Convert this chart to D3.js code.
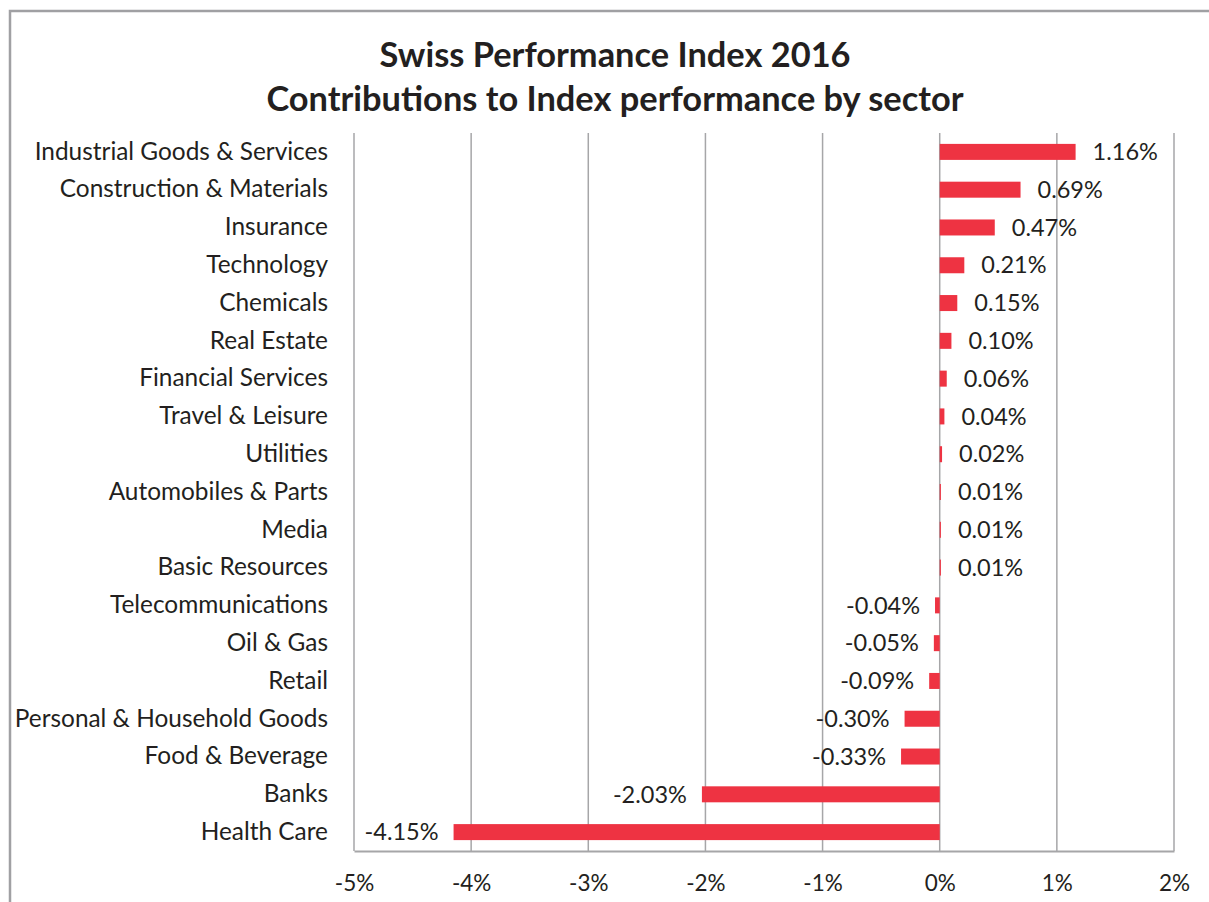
<!DOCTYPE html>
<html>
<head>
<meta charset="utf-8">
<script src="https://cdn.jsdelivr.net/npm/d3@7"></script>
<style>
  body { margin: 0; background: #fff; }
  text { font-family: Lato, "Open Sans", sans-serif; fill: #231f20; }
</style>
</head>
<body>
<svg></svg>
<script>
// sectors, top to bottom
var sectors = ["Industrial Goods & Services", "Construction & Materials", "Insurance", "Technology",
  "Chemicals", "Real Estate", "Financial Services", "Travel & Leisure", "Utilities",
  "Automobiles & Parts", "Media", "Basic Resources", "Telecommunications", "Oil & Gas",
  "Retail", "Personal & Household Goods", "Food & Beverage", "Banks", "Health Care"];

// contribution in percent
var values = [1.16, 0.69, 0.47, 0.21, 0.15, 0.10, 0.06, 0.04, 0.02, 0.01, 0.01, 0.01,
  -0.04, -0.05, -0.09, -0.30, -0.33, -2.03, -4.15];

// x axis ticks
var ticks = [-5, -4, -3, -2, -1, 0, 1, 2];

var titleLines = ["Swiss Performance Index 2016", "Contributions to Index performance by sector"];

var svgWidth = 1209, svgHeight = 902;
var plotLeft = 354, plotRight = 1174, plotTop = 133, plotBottom = 851;

var svg = d3.select("svg")
    .attr("width", svgWidth)
    .attr("height", svgHeight);

// outer frame (runs off the right and bottom edges)
svg.append("rect")
    .attr("x", 10).attr("y", 11)
    .attr("width", 1220).attr("height", 920)
    .attr("fill", "none")
    .attr("stroke", "#a0a0a3")
    .attr("stroke-width", 2.5);

// title
svg.selectAll(".title")
    .data(titleLines)
    .enter().append("text")
    .attr("class", "title")
    .attr("x", 615)
    .attr("y", function(d, i) { return 67 + i * 44; })
    .attr("text-anchor", "middle")
    .style("font-size", "34.4px")
    .style("font-weight", "bold")
    .text(function(d) { return d; });

var xScale = d3.scaleLinear()
    .domain([-5, 2])
    .range([plotLeft, plotRight]);

var yScale = d3.scaleBand()
    .domain(sectors)
    .range([plotTop, plotBottom]);

// vertical gridlines
svg.append("g")
    .selectAll("line")
    .data(ticks)
    .enter().append("line")
    .attr("x1", function(d) { return xScale(d); })
    .attr("x2", function(d) { return xScale(d); })
    .attr("y1", plotTop)
    .attr("y2", plotBottom)
    .attr("stroke", "#a6a6a8")
    .attr("stroke-width", 1.5);

// bottom axis
var x_axis = d3.axisBottom(xScale)
    .tickValues(ticks)
    .tickSize(0)
    .tickPadding(24)
    .tickFormat(function(d) { return d + "%"; });

var xg = svg.append("g")
    .attr("transform", "translate(0," + plotBottom + ")")
    .call(x_axis);
xg.select(".domain").attr("stroke", "#a6a6a8").attr("stroke-width", 2);
xg.selectAll("text").style("font-size", "22.5px").attr("fill", "#231f20");

// left category labels
var y_axis = d3.axisLeft(yScale)
    .tickSize(0)
    .tickPadding(26);

var yg = svg.append("g")
    .attr("transform", "translate(" + plotLeft + ",0)")
    .call(y_axis);
yg.select(".domain").remove();
yg.selectAll("text").style("font-size", "24.4px").attr("fill", "#231f20");

var barH = 16;

// bars
svg.append("g")
    .selectAll("rect")
    .data(values)
    .enter().append("rect")
    .attr("x", function(d) { return xScale(Math.min(0, d)); })
    .attr("y", function(d, i) { return yScale(sectors[i]) + yScale.bandwidth() / 2 - barH / 2; })
    .attr("width", function(d) { return Math.abs(xScale(d) - xScale(0)); })
    .attr("height", barH)
    .attr("fill", "#ee3342");

// value labels
svg.append("g")
    .selectAll("text")
    .data(values)
    .enter().append("text")
    .attr("x", function(d) { return d >= 0 ? xScale(d) + 17 : xScale(d) - 15; })
    .attr("y", function(d, i) { return yScale(sectors[i]) + yScale.bandwidth() / 2; })
    .attr("dy", "0.35em")
    .attr("text-anchor", function(d) { return d >= 0 ? "start" : "end"; })
    .style("font-size", "23.5px")
    .text(function(d) { return d.toFixed(2) + "%"; });
</script>
</body>
</html>
